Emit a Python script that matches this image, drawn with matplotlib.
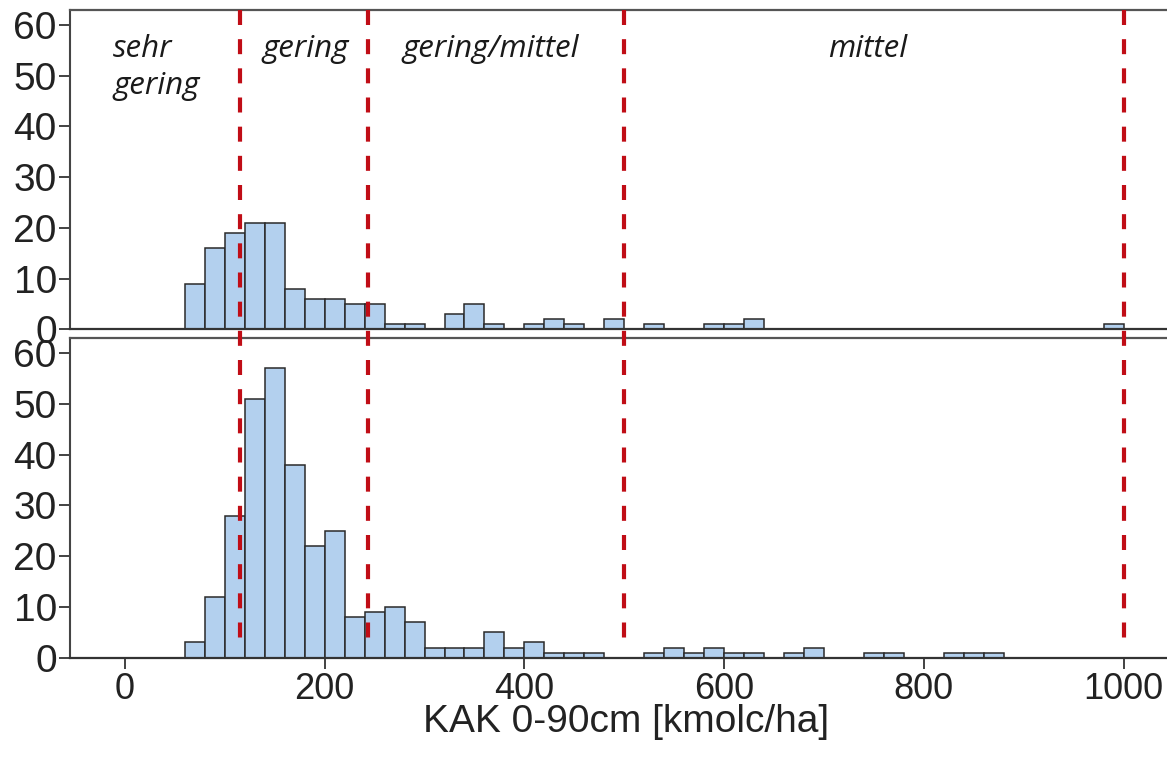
import matplotlib
matplotlib.use("Agg")
import matplotlib.pyplot as plt
import numpy as np

# ---- data ----
bin_width = 20
bin_start = 60
# counts per 20-unit bin starting at 60 (60-80, 80-100, ...)
counts_top = [9, 16, 19, 21, 21, 8, 6, 6, 5, 5, 1, 1, 0, 3, 5, 1, 0, 1, 2, 1,
              0, 2, 0, 1, 0, 0, 1, 1, 2, 0, 0, 0, 0, 0, 0, 0, 0, 0, 0, 0,
              0, 0, 0, 0, 0, 0, 1]
counts_bottom = [3, 12, 28, 51, 57, 38, 22, 25, 8, 9, 10, 7, 2, 2, 2, 5, 2, 3, 1, 1,
                 1, 0, 0, 1, 2, 1, 2, 1, 1, 0, 1, 2, 0, 0, 1, 1, 0, 0, 1, 1,
                 1]
class_limits = [115, 243, 500, 1000]
class_names = ["sehr\ngering", "gering", "gering/mittel", "mittel"]
x_ticks = [0, 200, 400, 600, 800, 1000]
y_ticks = [0, 10, 20, 30, 40, 50, 60]
x_label = "KAK 0-90cm [kmolc/ha]"

# ---- style ----
W, H = 1167, 759
plt.rcParams['font.family'] = ['Liberation Sans', 'DejaVu Sans']
plt.rcParams['lines.scale_dashes'] = False
bar_face = "#b3d0ee"
bar_edge = "#2a2a2a"
frame_col = "#555555"
red = "#c00d16"

fig = plt.figure(figsize=(W / 100, H / 100), dpi=100)

def pos(l, t, r, b):
    return [l / W, 1 - b / H, (r - l) / W, (b - t) / H]

xl = ((70 - 125) / 0.9985, (1167 - 125) / 0.9985)

ax_top = fig.add_axes(pos(70, 10, 1167, 329.3))
ax_bot = fig.add_axes(pos(70, 338, 1167, 657.7))

def draw_hist(ax, counts):
    edges = bin_start + bin_width * np.arange(len(counts))
    c = np.array(counts)
    m = c > 0
    ax.bar(edges[m], c[m], width=bin_width, align='edge', color=bar_face,
           edgecolor=bar_edge, linewidth=1.1, zorder=2)

draw_hist(ax_top, counts_top)
draw_hist(ax_bot, counts_bottom)

for ax, ytop in ((ax_top, 62.95), (ax_bot, 63.0)):
    ax.set_xlim(*xl)
    ax.set_ylim(0, ytop)
    ax.set_yticks(y_ticks)
    ax.tick_params(axis='y', direction='out', length=8, width=1.2, pad=1.5,
                   labelsize=28, colors='#222222')
    ax.spines['right'].set_visible(False)
    ax.spines['top'].set_color(frame_col)
    ax.spines['top'].set_linewidth(1.6)
    ax.spines['left'].set_color('#444444')
    ax.spines['left'].set_linewidth(1.5)
    ax.spines['bottom'].set_color('#333333')
    ax.spines['bottom'].set_linewidth(1.6)
    ax.patch.set_alpha(0)

ax_top.set_xticks([])
ax_bot.set_xticks(x_ticks)
ax_bot.tick_params(axis='x', direction='out', length=8, width=1.2, pad=2,
                   labelsize=26, colors='#222222')
ax_bot.set_xlabel(x_label, fontsize=28, color='#222222')
ax_bot.xaxis.set_label_coords((626 - 70) / 1097, -0.2)
ax_bot.xaxis.label.set_va('center')

# overlay for class limits spanning both panels
ax_ov = fig.add_axes(pos(70, 10, 1167, 657.7))
ax_ov.set_xlim(*xl)
ax_ov.set_ylim(0, 1)
ax_ov.axis('off')
for v in class_limits:
    ax_ov.plot([v, v], [1, 0.012], color=red, linewidth=3.0,
               linestyle=(0, (10.8, 10.2)), solid_capstyle='butt',
               dash_capstyle='butt', zorder=5)

# class labels in top panel
lab_font = dict(family=['Open Sans', 'DejaVu Sans'], style='italic', fontsize=22.5,
                color='#1a1a1a')
ax_top.text(-12, 53.7, "sehr", ha='left', va='baseline', **lab_font)
ax_top.text(-12, 46.4, "gering", ha='left', va='baseline', **lab_font)
ax_top.text(181, 53.7, class_names[1], ha='center', va='baseline', **lab_font)
ax_top.text(366, 53.7, class_names[2], ha='center', va='baseline', **lab_font)
ax_top.text(744, 53.7, class_names[3], ha='center', va='baseline', **lab_font)

fig.savefig("out.png", dpi=100)
